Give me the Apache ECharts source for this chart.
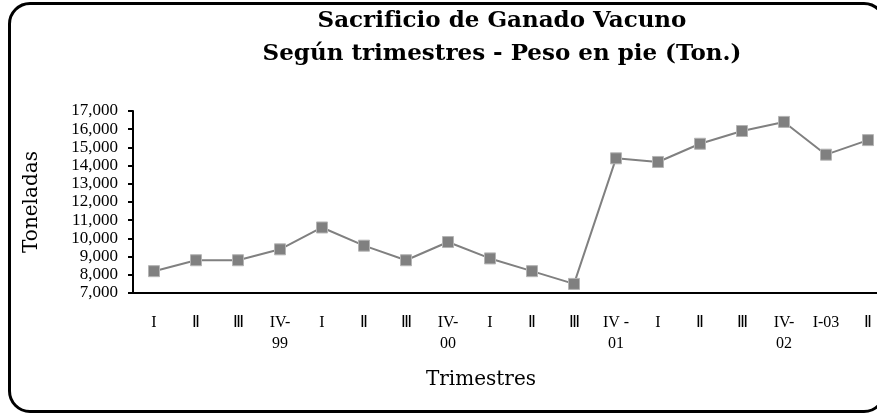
<!DOCTYPE html>
<html lang="es">
<head>
    <meta charset="UTF-8">
    <title>Sacrificio de Ganado Vacuno</title>
    <script src="https://cdn.jsdelivr.net/npm/echarts@6/dist/echarts.min.js"></script>
    <style>
        html, body {
            margin: 0;
            padding: 0;
            width: 877px;
            height: 415px;
            overflow: hidden;
            background: #fff;
        }
        #frame {
            position: absolute;
            left: 8px;
            top: 2px;
            width: 878px;
            height: 411px;
            box-sizing: border-box;
            border: 3px solid #000;
            border-radius: 22px;
        }
        #chart {
            position: absolute;
            left: 0;
            top: 0;
            width: 900px;
            height: 415px;
        }
    </style>
</head>
<body>
    <div id="frame"></div>
    <div id="chart"></div>

    <script>
        // trimestres 1999 - 2003
        const trimestres = ['I', 'Ⅱ', 'Ⅲ', 'IV-\n99', 'I', 'Ⅱ', 'Ⅲ', 'IV-\n00', 'I', 'Ⅱ', 'Ⅲ', 'IV -\n01',
                            'I', 'Ⅱ', 'Ⅲ', 'IV-\n02', 'I-03', 'Ⅱ'];
        // peso en pie (toneladas)
        const toneladas = [8200, 8800, 8800, 9400, 10600, 9600, 8800, 9800, 8900, 8200, 7500, 14400,
                           14200, 15200, 15900, 16400, 14600, 15400];
        const yTicks = { min: 7000, max: 17000, interval: 1000 };

        const chart = echarts.init(document.getElementById('chart'));

        const serif = '"Liberation Serif", "Times New Roman", serif';
        const dejavu = '"DejaVu Serif", serif';

        const option = {
            animation: false,
            title: [{
                text: 'Sacrificio de Ganado Vacuno\nSegún trimestres - Peso en pie (Ton.)',
                left: 502,
                top: 5,
                padding: 0,
                textAlign: 'center',
                textStyle: {
                    fontFamily: dejavu,
                    fontSize: 23,
                    fontWeight: 'bold',
                    color: '#000',
                    lineHeight: 33
                }
            }, {
                text: 'Trimestres',
                left: 481,
                top: 370,
                padding: 0,
                textAlign: 'center',
                textStyle: {
                    fontFamily: dejavu,
                    fontSize: 20,
                    fontWeight: 'normal',
                    color: '#000'
                }
            }],
            grid: {
                left: 133,
                right: 11,
                top: 111,
                bottom: 122
            },
            xAxis: {
                type: 'category',
                data: trimestres,
                boundaryGap: true,
                axisLine: { lineStyle: { color: '#000', width: 2 } },
                axisTick: { length: 5, lineStyle: { color: '#000', width: 2 } },
                axisLabel: {
                    interval: 0,
                    margin: 19,
                    fontFamily: serif,
                    fontSize: 16,
                    lineHeight: 21,
                    color: '#000'
                },
                splitLine: { show: false }
            },
            yAxis: {
                type: 'value',
                min: yTicks.min,
                max: yTicks.max,
                interval: yTicks.interval,
                name: 'Toneladas',
                nameLocation: 'middle',
                nameRotate: 90,
                nameGap: 91,
                nameTextStyle: {
                    fontFamily: dejavu,
                    fontSize: 20,
                    color: '#000'
                },
                axisLine: { show: true, lineStyle: { color: '#000', width: 2 } },
                axisTick: { show: true, length: 5, lineStyle: { color: '#000', width: 2 } },
                axisLabel: {
                    margin: 15,
                    fontFamily: serif,
                    fontSize: 17,
                    color: '#000',
                    formatter: v => v.toLocaleString('en-US')
                },
                splitLine: { show: false }
            },
            series: [{
                type: 'line',
                data: toneladas,
                symbol: 'rect',
                symbolSize: 11,
                lineStyle: { color: '#808080', width: 2 },
                itemStyle: { color: '#808080', borderColor: '#b4b4b4', borderWidth: 1 }
            }]
        };

        chart.setOption(option);
    </script>
</body>
</html>
